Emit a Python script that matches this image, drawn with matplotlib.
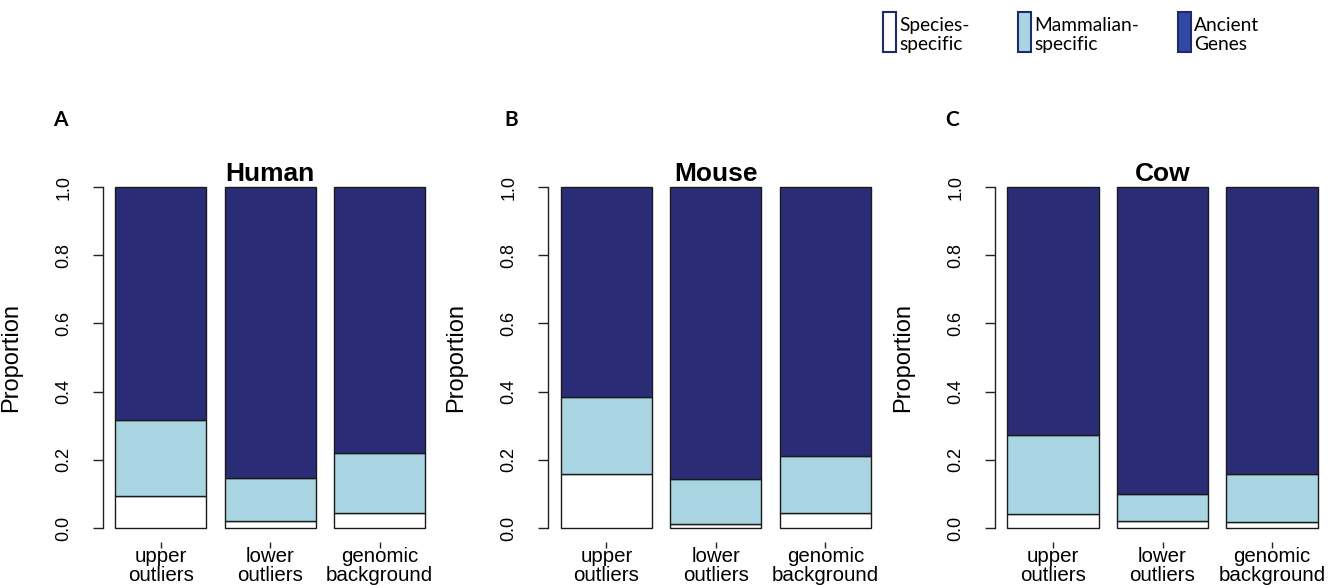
import matplotlib
matplotlib.use('Agg')
import matplotlib.pyplot as plt
from matplotlib.patches import Rectangle
import numpy as np
##########################################################################
#
#                      DATA
#
##########################################################################
panels     = ['Human', 'Mouse', 'Cow']
letters    = ['A', 'B', 'C']
categories = ['upper\noutliers', 'lower\noutliers', 'genomic\nbackground']

# proportions per panel (rows) and category (columns)
species_spec = [[0.094, 0.020, 0.044],
                [0.157, 0.012, 0.044],
                [0.041, 0.020, 0.017]]
mammal_spec  = [[0.224, 0.128, 0.176],
                [0.228, 0.132, 0.166],
                [0.231, 0.081, 0.142]]
ancient      = [[0.682, 0.852, 0.780],
                [0.615, 0.856, 0.790],
                [0.728, 0.899, 0.841]]

legnd = ['Species-\nspecific', 'Mammalian-\nspecific', 'Ancient\nGenes']
##########################################################################
#
#                      STYLE
#
##########################################################################
plt.rcParams['font.family'] = ['Liberation Sans', 'DejaVu Sans']
c_white = 'white'
c_light = '#a9d5e3'
c_dark  = '#2a2d75'
c_leg3  = '#2e48a3'
c_edge  = '#1a1a1a'
W, H    = 1339, 585

fig = plt.figure(figsize=(W/100, H/100), dpi=100)

lefts  = [102.7, 548.3, 995.0]   # pixel position of y axis
ax_w   = 335.0
ax_top = 173.4
ax_bot = 541.6

x = np.array([0.2, 1.4, 2.6])
##########################################################################
#
#                      PLOTTING
#
##########################################################################
for i in range(3):
    ax = fig.add_axes([lefts[i]/W, 1 - ax_bot/H, ax_w/W, (ax_bot - ax_top)/H])
    s = np.array(species_spec[i])
    m = np.array(mammal_spec[i])
    a = np.array(ancient[i])
    kw = dict(width=1.0, align='edge', edgecolor=c_edge, linewidth=1.0)
    ax.bar(x, s, color=c_white, **kw)
    ax.bar(x, m, bottom=s, color=c_light, **kw)
    ax.bar(x, a, bottom=s + m, color=c_dark, **kw)

    ax.set_xlim(0.064, 3.736)
    ax.set_ylim(-0.04, 1.04)
    for sp in ['top', 'right', 'bottom']:
        ax.spines[sp].set_visible(False)
    ax.spines['left'].set_bounds(0, 1)
    ax.spines['left'].set_linewidth(1.0)
    ax.spines['left'].set_color('#222222')

    ax.set_yticks([0.0, 0.2, 0.4, 0.6, 0.8, 1.0])
    ax.set_yticklabels(['0.0', '0.2', '0.4', '0.6', '0.8', '1.0'],
                       rotation=90, va='center', fontsize=13)
    ax.tick_params(axis='y', length=7, width=1.0, pad=15, color='#222222')

    ax.set_xticks(x + 0.5)
    ax.set_xticklabels(categories, fontsize=14.8, linespacing=1.02)
    ax.tick_params(axis='x', length=4, width=1.0, pad=0, color='#222222')

    ax.set_ylabel('Proportion', fontsize=17)
    ax.yaxis.set_label_coords(-0.241, 0.5)

    ax.text(0.5, 0.979, panels[i], transform=ax.transAxes, ha='center',
            va='baseline', fontsize=19, fontweight='bold')

    lx = [60, 511, 952][i]
    fig.text(lx/W, 1 - 120/H, letters[i], ha='center', va='center',
             fontsize=15, fontweight='bold', family=['Lato', 'DejaVu Sans'])
#-------------------------------------------------------------------------
# Legend (drawn by hand at top right)
#-------------------------------------------------------------------------
box_x  = [883, 1018, 1178]
colors = [c_white, c_light, c_leg3]
for bx, col, lab in zip(box_x, colors, legnd):
    fig.patches.append(Rectangle((bx/W, 1 - 52/H), 13/W, 40/H,
                                 transform=fig.transFigure,
                                 facecolor=col, edgecolor='#1f2a6b',
                                 linewidth=1.5))
    fig.text((bx + 16)/W, 1 - 35/H, lab, ha='left', va='center',
             fontsize=13.8, linespacing=1.18, family=['Lato', 'DejaVu Sans'])

fig.savefig('out.png', dpi=100)
